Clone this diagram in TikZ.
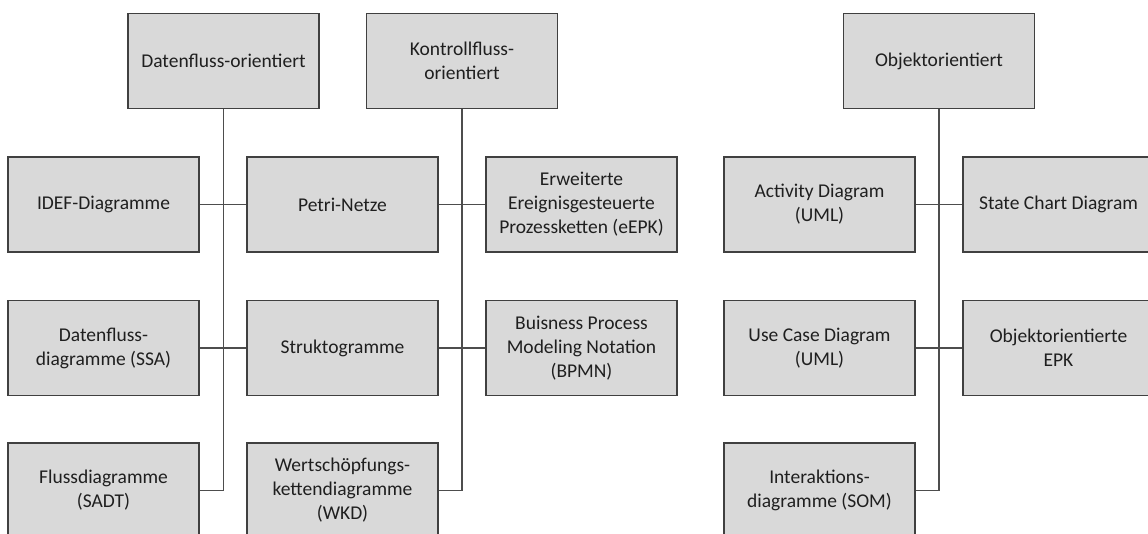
\documentclass[tikz,border=0pt]{standalone}
\usepackage{fontspec}
\setmainfont{Carlito}
\definecolor{boxfill}{HTML}{D9D9D9}
\definecolor{boxline}{HTML}{404040}
\definecolor{linkline}{HTML}{4D4D4D}
\definecolor{txt}{HTML}{1F1F1F}
\begin{document}
\begin{tikzpicture}[x=1pt,y=-1pt,
  cat/.style={draw=boxline,line width=1.6pt,fill=boxfill,rectangle,
    minimum width=191pt,minimum height=95pt,inner sep=0pt,
    align=center,text=txt,font=\fontsize{19.5}{24}\selectfont},
  link/.style={draw=linkline,line width=1.6pt}]
\useasboundingbox (0,0) rectangle (1148,533);
\clip (0,0) rectangle (1148,533);
\fill[white] (0,0) rectangle (1148,533);

% top-level categories
\node[cat] (df) at (223.5,61) {Datenfluss-orientiert};
\node[cat] (kf) at (462,61) {Kontrollfluss-\\orientiert};
\node[cat] (oo) at (939,61) {Objektorientiert};

% row 1
\node[cat] (idef)  at (103.5,204.5) {IDEF-Diagramme};
\node[cat] (petri) at (342.5,204.5) {Petri-Netze};
\node[cat] (epk)   at (581.5,204.5) {Erweiterte\\Ereignisgesteuerte\\Prozessketten (eEPK)};
\node[cat] (act)   at (819.5,204.5) {Activity Diagram\\(UML)};
\node[cat] (state) at (1058.5,204.5) {State Chart Diagram};

% row 2
\node[cat] (ssa)   at (103.5,348) {Datenfluss-\\diagramme (SSA)};
\node[cat] (struk) at (342.5,348) {Struktogramme};
\node[cat] (bpmn)  at (581.5,348) {Buisness Process\\Modeling Notation\\(BPMN)};
\node[cat] (use)   at (819.5,348) {Use Case Diagram\\(UML)};
\node[cat] (oepk)  at (1058.5,348) {Objektorientierte\\EPK};

% row 3
\node[cat] (sadt)  at (103.5,490.5) {Flussdiagramme\\(SADT)};
\node[cat] (wkd)   at (342.5,490.5) {Wertschöpfungs-\\kettendiagramme\\(WKD)};
\node[cat] (som)   at (819.5,490.5) {Interaktions-\\diagramme (SOM)};

% trunk ends
\coordinate (dfend) at (223.5,490.5);
\coordinate (kfend) at (462,490.5);
\coordinate (ooend) at (939,490.5);

% trunks
\draw[link] (df.south) -- (dfend);
\draw[link] (kf.south) -- (kfend);
\draw[link] (oo.south) -- (ooend);

% branches
\draw[link] (idef.east) -- (petri.west);
\draw[link] (ssa.east) -- (struk.west);
\draw[link] (sadt.east) -- (dfend);
\draw[link] (petri.east) -- (epk.west);
\draw[link] (struk.east) -- (bpmn.west);
\draw[link] (wkd.east) -- (kfend);
\draw[link] (act.east) -- (state.west);
\draw[link] (use.east) -- (oepk.west);
\draw[link] (som.east) -- (ooend);
\end{tikzpicture}
\end{document}
